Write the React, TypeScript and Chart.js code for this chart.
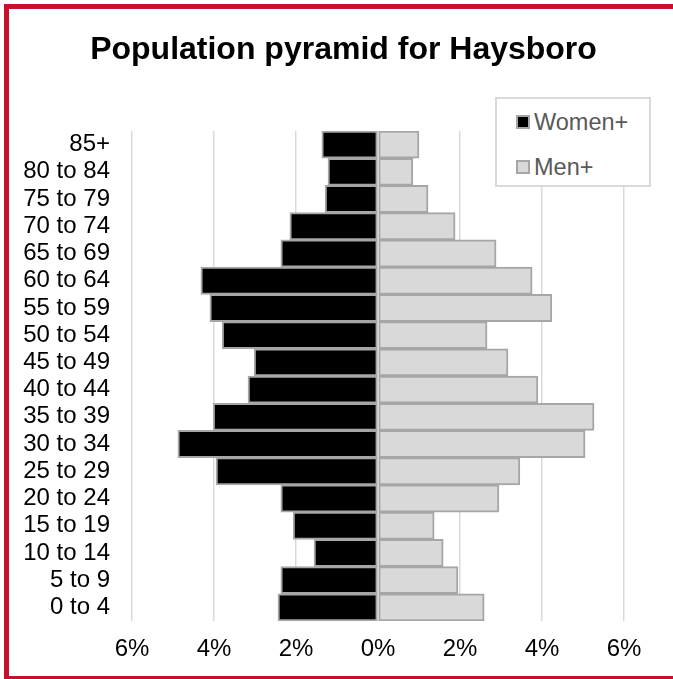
import React, { useEffect, useRef } from "react";
import { Chart, registerables } from "chart.js";

Chart.register(...registerables);

const titleText = "Population pyramid for Haysboro";
const ageGroups = [
  "85+", "80 to 84", "75 to 79", "70 to 74", "65 to 69", "60 to 64",
  "55 to 59", "50 to 54", "45 to 49", "40 to 44", "35 to 39", "30 to 34",
  "25 to 29", "20 to 24", "15 to 19", "10 to 14", "5 to 9", "0 to 4",
];
const womenPct = [1.37, 1.22, 1.29, 2.15, 2.37, 4.32, 4.1, 3.8, 3.02, 3.17, 4.02, 4.88, 3.95, 2.37, 2.07, 1.56, 2.37, 2.44];
const menPct = [1.0, 0.85, 1.22, 1.88, 2.88, 3.76, 4.24, 2.66, 3.17, 3.9, 5.27, 5.05, 3.46, 2.95, 1.37, 1.59, 1.95, 2.59];
const seriesNames = ["Women+", "Men+"];
const seriesColors = ["#000000", "#d9d9d9"];
const xTickValues = [-6, -4, -2, 0, 2, 4, 6];

const FONT = "'Liberation Sans', Arial, sans-serif";
const CW = 669;
const CH = 667;

export default function App() {
  const ref = useRef<HTMLCanvasElement | null>(null);

  useEffect(() => {
    if (!ref.current) return;
    const chart = new Chart(ref.current, {
      type: "bar",
      data: {
        labels: ageGroups,
        datasets: [
          {
            label: seriesNames[0],
            data: womenPct.map((v) => -v),
            backgroundColor: seriesColors[0],
            borderColor: "#a6a6a6",
            borderWidth: 2,
            borderSkipped: false,
            barPercentage: 1,
            categoryPercentage: 1,
          },
          {
            label: seriesNames[1],
            data: menPct,
            backgroundColor: seriesColors[1],
            borderColor: "#a6a6a6",
            borderWidth: 2,
            borderSkipped: false,
            barPercentage: 1,
            categoryPercentage: 1,
          },
        ],
      },
      options: {
        indexAxis: "y",
        responsive: false,
        animation: false,
        devicePixelRatio: 1,
        layout: { padding: { left: 0, right: 54, top: 122, bottom: 0 } },
        plugins: {
          legend: { display: false },
          tooltip: { enabled: false },
          title: { display: false },
        },
        scales: {
          x: {
            type: "linear",
            stacked: true,
            min: -6,
            max: 6,
            afterBuildTicks: (scale: any) => {
              scale.ticks = xTickValues.map((v) => ({ value: v }));
            },
            afterFit: (scale: any) => {
              scale.height = 55;
            },
            ticks: {
              color: "#000000",
              font: { family: FONT, size: 24 },
              padding: 14,
              callback: (v: any) => Math.abs(Number(v)) + "%",
            },
            grid: { color: "#d9d9d9", lineWidth: 1.5, drawTicks: false },
            border: { display: false },
          },
          y: {
            stacked: true,
            afterFit: (scale: any) => {
              scale.width = 123;
            },
            ticks: {
              color: "#000000",
              font: { family: FONT, size: 24 },
              padding: 22,
              autoSkip: false,
            },
            grid: { display: false, drawTicks: false },
            border: { display: false },
          },
        },
      },
    });
    return () => chart.destroy();
  }, []);

  return (
    <div style={{ position: "fixed", left: 0, top: 0, width: 673, height: 679, overflow: "hidden", background: "#fff" }}>
      <div
        style={{
          position: "absolute",
          left: 4,
          top: 4,
          width: CW,
          height: CH,
          border: "5px solid #c8102e",
          background: "#fff",
        }}
      >
        <canvas ref={ref} width={CW} height={CH} style={{ width: CW, height: CH, display: "block" }} />
        <div
          style={{
            position: "absolute",
            left: 0,
            top: 20,
            width: CW,
            textAlign: "center",
            fontFamily: FONT,
            fontSize: 32,
            lineHeight: "38px",
            fontWeight: "bold",
            color: "#000",
            whiteSpace: "nowrap",
          }}
        >
          {titleText}
        </div>
        <div
          style={{
            position: "absolute",
            left: 486,
            top: 88,
            width: 152,
            height: 86,
            border: "2px solid #d9d9d9",
            background: "#fff",
            fontFamily: FONT,
            fontSize: 23.5,
            color: "#595959",
          }}
        >
          {seriesNames.map((name, i) => (
            <div
              key={name}
              style={{
                position: "absolute",
                left: 19,
                top: 9 + i * 45,
                height: 28,
                display: "flex",
                alignItems: "center",
                whiteSpace: "nowrap",
              }}
            >
              <span
                style={{
                  display: "inline-block",
                  width: 10,
                  height: 10,
                  border: "2px solid #a6a6a6",
                  background: seriesColors[i],
                  marginRight: 4,
                }}
              />
              <span>{name}</span>
            </div>
          ))}
        </div>
      </div>
    </div>
  );
}
